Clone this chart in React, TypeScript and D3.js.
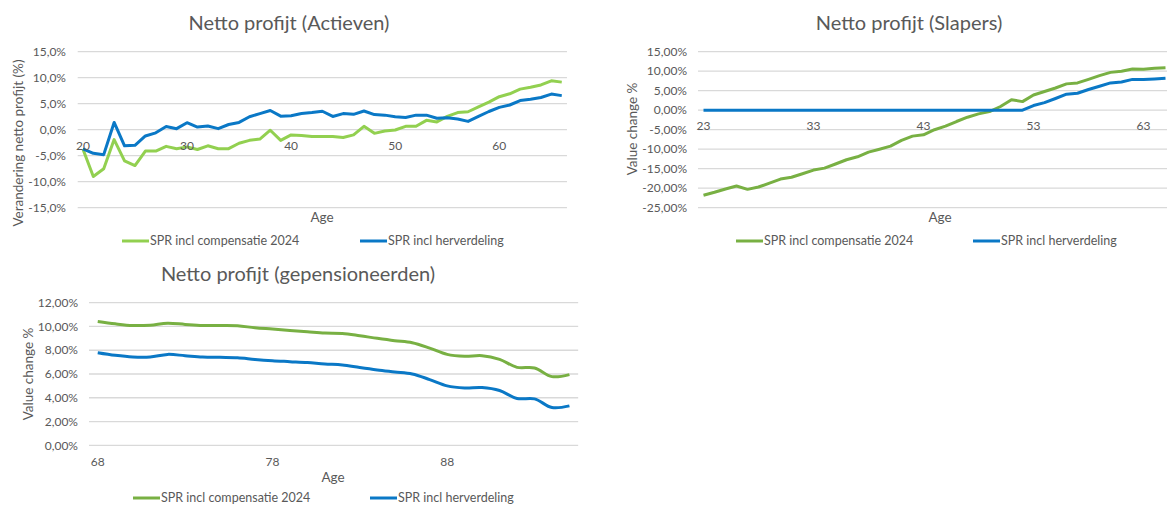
import React from "react";
import * as d3 from "d3";

// ---------- DATA ----------
const actiefAges = [20,21,22,23,24,25,26,27,28,29,30,31,32,33,34,35,36,37,38,39,40,41,42,43,44,45,46,47,48,49,50,51,52,53,54,55,56,57,58,59,60,61,62,63,64,65,66];
const actiefComp = [-3.7,-9.0,-7.5,-1.9,-6.0,-6.9,-4.1,-4.1,-3.2,-3.65,-3.3,-3.8,-3.1,-3.65,-3.65,-2.6,-2.05,-1.8,-0.1,-2.05,-1.0,-1.1,-1.3,-1.3,-1.3,-1.5,-1.0,0.65,-0.7,-0.25,-0.05,0.65,0.65,1.8,1.5,2.55,3.3,3.45,4.4,5.3,6.35,6.9,7.8,8.15,8.6,9.4,9.15];
const actiefHerv = [-3.7,-4.55,-4.8,1.4,-3.1,-3.0,-1.2,-0.6,0.6,0.2,1.35,0.5,0.7,0.2,1.0,1.4,2.5,3.1,3.7,2.6,2.7,3.1,3.3,3.55,2.55,3.1,2.95,3.6,2.9,2.8,2.5,2.35,2.8,2.8,2.2,2.3,2.05,1.6,2.55,3.5,4.3,4.75,5.6,5.85,6.2,6.85,6.55];
const actiefTicks = [15,10,5,0,-5,-10,-15];
const actiefLabels = [20,30,40,50,60];

const slaperAges = [23,24,25,26,27,28,29,30,31,32,33,34,35,36,37,38,39,40,41,42,43,44,45,46,47,48,49,50,51,52,53,54,55,56,57,58,59,60,61,62,63,64,65];
const slaperComp = [-21.8,-21.05,-20.2,-19.45,-20.3,-19.7,-18.7,-17.65,-17.2,-16.3,-15.35,-14.85,-13.8,-12.7,-11.95,-10.75,-10.0,-9.2,-7.75,-6.65,-6.3,-5.0,-4.1,-2.9,-1.8,-0.95,-0.35,0.95,2.7,2.2,3.9,4.8,5.7,6.75,7.0,7.9,8.85,9.7,10.0,10.55,10.5,10.75,10.9];
const slaperHerv = [0,0,0,0,0,0,0,0,0,0,0,0,0,0,0,0,0,0,0,0,0,0,0,0,0,0,0,0,0,0,1.2,1.95,3.0,4.1,4.35,5.3,6.15,7.0,7.25,7.9,7.85,8.0,8.2];
const slaperTicks = [15,10,5,0,-5,-10,-15,-20,-25];
const slaperLabels = [23,33,43,53,63];

const pensAges = [68,69,70,71,72,73,74,75,76,77,78,79,80,81,82,83,84,85,86,87,88,89,90,91,92,93,94,95];
const pensComp = [10.42,10.22,10.08,10.11,10.28,10.17,10.08,10.08,10.06,9.89,9.78,9.66,9.55,9.44,9.41,9.22,9.0,8.8,8.63,8.18,7.65,7.49,7.54,7.23,6.56,6.51,5.78,5.95];
const pensHerv = [7.79,7.57,7.43,7.43,7.65,7.54,7.43,7.40,7.37,7.23,7.12,7.04,6.96,6.84,6.76,6.54,6.34,6.17,6.0,5.53,5.0,4.83,4.86,4.61,3.94,3.91,3.18,3.32];
const pensTicks = [12,10,8,6,4,2,0];
const pensLabels = [68,78,88];

const seriesNames = ["SPR incl compensatie 2024", "SPR incl herverdeling"];

// ---------- STYLE ----------
const FONT = "Lato, 'Open Sans', sans-serif";
const TXT = "#595959";
const GRID = "#d9d9d9";
const BLUE = "#0a78c6";
const GREEN1 = "#92d050";
const GREEN2 = "#78b043";

type ChartProps = {
  title: string; titleX: number; titleY: number;
  ages: number[]; series: { values: number[]; color: string }[];
  yDomain: [number, number]; ticks: number[]; decimals: number;
  left: number; step: number; top: number; bottom: number;
  tickX: number; labels: number[];
  yTitle: string; yTitleX: number; yTitleY: number;
  ageX: number; ageY: number;
  legendY: number; legendX: [number, number];
  curve?: any; lineW: number;
};

function fmt(v: number, d: number) {
  return v.toFixed(d).replace(".", ",") + "%";
}

function LineChart(p: ChartProps) {
  const right = p.left + p.step * p.ages.length;
  const x = d3.scalePoint<number>().domain(p.ages).range([p.left, right]).padding(0.5);
  const y = d3.scaleLinear().domain(p.yDomain).range([p.bottom, p.top]);
  const line = d3.line<number>()
    .x((_, i) => x(p.ages[i]) as number)
    .y((v) => y(v))
    .curve(p.curve || d3.curveLinear);
  const y0 = y(0);
  return (
    <g fontFamily={FONT}>
      <text x={p.titleX} y={p.titleY} textAnchor="middle" fontSize={20} fill={TXT}>{p.title}</text>
      {p.ticks.map((t) => (
        <g key={t}>
          <line x1={p.left} x2={right} y1={y(t)} y2={y(t)} stroke={GRID} strokeWidth={1.3} />
          <text x={p.tickX} y={y(t)} dy="0.35em" textAnchor="end" fontSize={12} fill={TXT}>{fmt(t, p.decimals)}</text>
        </g>
      ))}
      {p.series.map((s, i) => (
        <path key={i} d={line(s.values) || ""} fill="none" stroke={s.color} strokeWidth={p.lineW} strokeLinejoin="round" />
      ))}
      {p.labels.map((a) => (
        <text key={a} x={x(a)} y={y0 + 16} dy="0.35em" textAnchor="middle" fontSize={12} fill={TXT}>{a}</text>
      ))}
      <text transform={`translate(${p.yTitleX},${p.yTitleY}) rotate(-90)`} textAnchor="middle" dy="0.35em" fontSize={13.5} fill={TXT}>{p.yTitle}</text>
      <text x={p.ageX} y={p.ageY} textAnchor="middle" fontSize={13.5} fill={TXT}>Age</text>
      {p.series.map((s, i) => (
        <g key={"l" + i}>
          <line x1={p.legendX[i]} x2={p.legendX[i] + 27} y1={p.legendY} y2={p.legendY} stroke={s.color} strokeWidth={3} />
          <text x={p.legendX[i] + 28} y={p.legendY} dy="0.35em" fontSize={12.5} fill={TXT}>{seriesNames[i]}</text>
        </g>
      ))}
    </g>
  );
}

export default function App() {
  return (
    <svg width={1167} height={506} style={{ position: "absolute", left: 0, top: 0, background: "#fff" }}>
      <rect width={1167} height={506} fill="#fff" />
      <LineChart
        title="Netto profijt (Actieven)" titleX={289} titleY={30}
        ages={actiefAges}
        series={[{ values: actiefComp, color: GREEN1 }, { values: actiefHerv, color: BLUE }]}
        yDomain={[-15, 15]} ticks={actiefTicks} decimals={1}
        left={77.7} step={10.41} top={51.7} bottom={207.7}
        tickX={66} labels={actiefLabels}
        yTitle="Verandering netto profijt (%)" yTitleX={18} yTitleY={143}
        ageX={322} ageY={222}
        legendY={241} legendX={[122, 360]} lineW={3}
      />
      <LineChart
        title="Netto profijt (Slapers)" titleX={909} titleY={30}
        ages={slaperAges}
        series={[{ values: slaperComp, color: GREEN2 }, { values: slaperHerv, color: BLUE }]}
        yDomain={[-25, 15]} ticks={slaperTicks} decimals={2}
        left={698} step={11} top={51.7} bottom={207.7}
        tickX={687} labels={slaperLabels}
        yTitle="Value change %" yTitleX={632} yTitleY={129}
        ageX={940} ageY={222}
        legendY={241} legendX={[736, 973]} lineW={3}
      />
      <LineChart
        title="Netto profijt (gepensioneerden)" titleX={298} titleY={281}
        ages={pensAges}
        series={[{ values: pensComp, color: GREEN2 }, { values: pensHerv, color: BLUE }]}
        yDomain={[0, 12]} ticks={pensTicks} decimals={2}
        left={89} step={17.47} top={302.7} bottom={445.3}
        tickX={78} labels={pensLabels}
        yTitle="Value change %" yTitleX={28} yTitleY={374}
        ageX={333} ageY={482}
        legendY={498} legendX={[133, 370]} lineW={3}
        curve={d3.curveCatmullRom.alpha(0.5)}
      />
    </svg>
  );
}
